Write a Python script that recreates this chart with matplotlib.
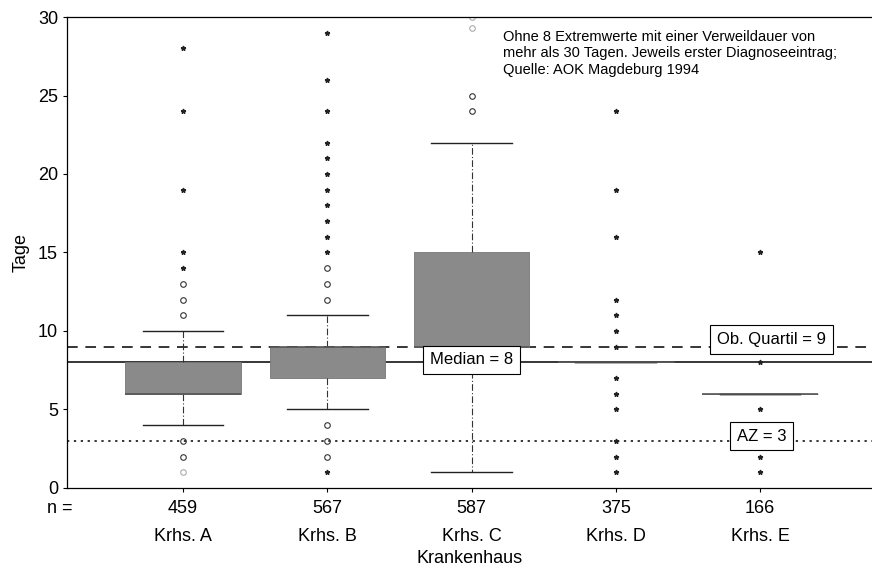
import matplotlib
matplotlib.use("Agg")
import matplotlib.pyplot as plt

plt.rcParams['font.family'] = ['Liberation Sans', 'DejaVu Sans']

# Kennwerte je Krankenhaus (Verweildauer in Tagen)
haeuser = ['Krhs. A', 'Krhs. B', 'Krhs. C', 'Krhs. D', 'Krhs. E']
anzahl = [459, 567, 587, 375, 166]
q1 = [6, 7, 9, 8, 6]
median = [6, 9, 9, 8, 6]
q3 = [8, 9, 15, 8, 6]
whisk_lo = [4, 5, 1, 8, 6]
whisk_hi = [10, 11, 22, 8, 6]

# Ausreisser (Kreise) und Extremwerte (Sterne)
ausreisser = [
    [13, 12, 11, 3, 2],
    [14, 13, 12, 4, 3, 2],
    [24, 25],
    [],
    [],
]
ausreisser_hell = [[1], [], [29.3, 30], [], []]
extremwerte = [
    [28, 24, 19, 15, 14],
    [29, 26, 24, 22, 21, 20, 19, 18, 17, 16, 15, 1],
    [],
    [24, 19, 16, 12, 11, 10, 9, 7, 6, 5, 3, 2, 1],
    [15, 8, 5, 2, 1],
]

ref_median = 8
ref_quartil = 9
ref_az = 3

fig = plt.figure(figsize=(8.72, 5.68), dpi=100)
ax = fig.add_axes([0.077, 0.141, 0.923, 0.829])

pos = list(range(1, len(haeuser) + 1))
stats = []
for i in range(len(haeuser)):
    stats.append(dict(med=median[i], q1=q1[i], q3=q3[i],
                      whislo=whisk_lo[i], whishi=whisk_hi[i], fliers=[]))

ax.bxp(stats, positions=pos, widths=0.8, capwidths=0.56, patch_artist=True,
       showfliers=False,
       boxprops=dict(facecolor='#8a8a8a', edgecolor='#777777', linewidth=0.6),
       medianprops=dict(color='#555555', linewidth=1.2),
       whiskerprops=dict(color='#333333', linewidth=0.8, linestyle=(0, (6, 2, 1, 2))),
       capprops=dict(color='#222222', linewidth=1.0))

for i, p in enumerate(pos):
    if ausreisser[i]:
        ax.plot([p] * len(ausreisser[i]), ausreisser[i], 'o', ms=4, mfc='none',
                mec='#333333', mew=0.8, clip_on=False)
    if ausreisser_hell[i]:
        ax.plot([p] * len(ausreisser_hell[i]), ausreisser_hell[i], 'o', ms=4, mfc='none',
                mec='#aaaaaa', mew=0.8, clip_on=True)
    if extremwerte[i]:
        ax.plot([p] * len(extremwerte[i]), extremwerte[i], '*', ms=3.5,
                color='#222222', clip_on=False)

ax.axhline(ref_median, color='black', lw=1.1, zorder=1)
ax.axhline(ref_quartil, color='black', lw=1.1, ls=(0, (7, 5)), zorder=1)
ax.axhline(ref_az, color='black', lw=1.1, ls=(0, (1.5, 3)), zorder=1)

box = dict(boxstyle='square,pad=0.4', fc='white', ec='black', lw=0.8)
ax.text(3.0, 8.15, 'Median = 8', fontsize=12, ha='center', va='center', bbox=box, zorder=5)
ax.text(5.08, 9.45, 'Ob. Quartil = 9', fontsize=12, ha='center', va='center', bbox=box, zorder=5)
ax.text(5.01, 3.3, 'AZ = 3', fontsize=12, ha='center', va='center', bbox=box, zorder=5)

ax.text(0.542, 0.972, 'Ohne 8 Extremwerte mit einer Verweildauer von\n'
        'mehr als 30 Tagen. Jeweils erster Diagnoseeintrag;\n'
        'Quelle: AOK Magdeburg 1994',
        transform=ax.transAxes, fontsize=10.5, va='top', ha='left', linespacing=1.2)

ax.set_xlim(0.196, 5.776)
ax.set_ylim(0, 30)
ax.set_yticks([0, 5, 10, 15, 20, 25, 30])
ax.set_xticks(pos)
ax.set_xticklabels([f'{n}\n{h}' for n, h in zip(anzahl, haeuser)], fontsize=13,
                   linespacing=1.85)
ax.tick_params(axis='y', labelsize=13, length=3, direction='out')
ax.tick_params(axis='x', length=3, direction='out', pad=6)
ax.spines['right'].set_visible(False)
for s in ['left', 'top', 'bottom']:
    ax.spines[s].set_linewidth(0.9)

ax.text(-0.025, -0.043, 'n =', transform=ax.transAxes, fontsize=13, ha='left', va='center')
ax.set_ylabel('Tage', fontsize=13, labelpad=6)
ax.set_xlabel('Krankenhaus', fontsize=13, labelpad=3)

fig.savefig('out.png', dpi=100)
